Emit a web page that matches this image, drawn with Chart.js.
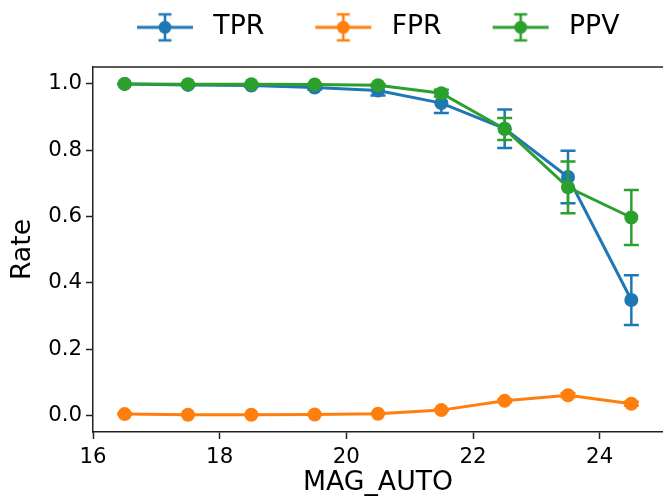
<!DOCTYPE html>
<html>
<head>
<meta charset="utf-8">
<script src="https://cdn.jsdelivr.net/npm/chart.js@4.4.1/dist/chart.umd.min.js"></script>
<style>
  html, body { margin: 0; padding: 0; background: #fff; }
</style>
</head>
<body>
<canvas id="rate-chart" width="663" height="500"></canvas>
<script>
// Magnitude bin centres and the three rates
const magBins = [16.5, 17.5, 18.5, 19.5, 20.5, 21.5, 22.5, 23.5, 24.5];
const tpr    = [1.000, 0.997, 0.995, 0.989, 0.980, 0.942, 0.865, 0.719, 0.348];
const tprErr = [0.001, 0.002, 0.003, 0.006, 0.015, 0.030, 0.058, 0.079, 0.075];
const fpr    = [0.004, 0.002, 0.002, 0.003, 0.005, 0.016, 0.044, 0.061, 0.035];
const fprErr = [0.001, 0.001, 0.001, 0.001, 0.001, 0.002, 0.004, 0.006, 0.006];
const ppv    = [1.000, 0.999, 0.999, 0.998, 0.996, 0.972, 0.864, 0.688, 0.597];
const ppvErr = [0.000, 0.001, 0.001, 0.002, 0.004, 0.010, 0.033, 0.078, 0.083];

const xTicks = [16, 18, 20, 22, 24];
const yTicks = [0.0, 0.2, 0.4, 0.6, 0.8, 1.0];

const BLUE = '#1f77b4', ORANGE = '#ff7f0e', GREEN = '#2ca02c';
const INK = '#222';

// Legend handle: line + marker + vertical error bar, like matplotlib's errorbar handle
function legendHandle(color) {
  const c = document.createElement('canvas');
  c.width = 100; c.height = 32;
  const g = c.getContext('2d');
  g.strokeStyle = color; g.fillStyle = color;
  g.lineWidth = 3;
  g.beginPath(); g.moveTo(37, 16); g.lineTo(93, 16); g.stroke();
  g.lineWidth = 2.5;
  g.beginPath();
  g.moveTo(65, 3); g.lineTo(65, 29);
  g.moveTo(58.5, 3); g.lineTo(71.5, 3);
  g.moveTo(58.5, 29); g.lineTo(71.5, 29);
  g.stroke();
  g.beginPath(); g.arc(65, 16, 6.5, 0, Math.PI * 2); g.fill();
  return c;
}

const toPts = ys => magBins.map((x, i) => ({ x, y: ys[i] }));

const series = (label, ys, errs, color, order) => ({
  label,
  data: toPts(ys),
  errors: errs,
  borderColor: color,
  backgroundColor: color,
  pointBackgroundColor: color,
  pointBorderWidth: 0,
  pointRadius: 7,
  pointHoverRadius: 7,
  borderWidth: 3,
  tension: 0,
  order,
  handle: legendHandle(color),
});

// Error bars are drawn under each dataset's line and markers
const errorBars = {
  id: 'errorBars',
  beforeDatasetDraw(chart, args) {
    const ds = chart.data.datasets[args.index];
    if (!ds.errors) return;
    const { ctx } = chart;
    const xs = chart.scales.x, ys = chart.scales.y;
    ctx.save();
    ctx.strokeStyle = ds.borderColor;
    ctx.lineWidth = 2.5;
    ds.data.forEach((p, i) => {
      const e = ds.errors[i];
      const px = xs.getPixelForValue(p.x);
      const lo = ys.getPixelForValue(p.y - e);
      const hi = ys.getPixelForValue(p.y + e);
      ctx.beginPath();
      ctx.moveTo(px, lo); ctx.lineTo(px, hi);
      ctx.moveTo(px - 7.5, lo); ctx.lineTo(px + 7.5, lo);
      ctx.moveTo(px - 7.5, hi); ctx.lineTo(px + 7.5, hi);
      ctx.stroke();
    });
    ctx.restore();
  },
};

// Top spine (the right one falls outside the canvas)
const frame = {
  id: 'frame',
  afterDraw(chart) {
    const { ctx, chartArea: a } = chart;
    ctx.save();
    ctx.strokeStyle = INK;
    ctx.lineWidth = 1.5;
    ctx.beginPath();
    ctx.moveTo(a.left, a.top); ctx.lineTo(a.right, a.top);
    ctx.stroke();
    ctx.restore();
  },
};

// Legend sits centred over the axes, not the canvas; fix its height to the top margin
const legendPlace = {
  id: 'legendPlace',
  beforeInit(chart) {
    const fit = chart.legend.fit;
    chart.legend.fit = function () { fit.call(this); this.height = 67; };
  },
  afterLayout(chart) {
    chart.legend.left += 86;
    chart.legend.right += 86;
  },
};

Chart.defaults.font.family = "'DejaVu Sans', sans-serif";
Chart.defaults.color = '#000';

new Chart(document.getElementById('rate-chart'), {
  type: 'line',
  data: {
    datasets: [
      series('TPR', tpr, tprErr, BLUE, 3),
      series('FPR', fpr, fprErr, ORANGE, 2),
      series('PPV', ppv, ppvErr, GREEN, 1),
    ],
  },
  options: {
    responsive: false,
    animation: false,
    devicePixelRatio: 1,
    layout: { padding: 0, autoPadding: false },
    plugins: {
      tooltip: { enabled: false },
      legend: {
        position: 'top',
        align: 'start',
        labels: {
          usePointStyle: true,
          pointStyleWidth: 100,
          padding: 14,
          color: '#000',
          font: { size: 26.7 },
          generateLabels(chart) {
            return chart.data.datasets.map((ds, i) => ({
              text: ds.label,
              datasetIndex: i,
              pointStyle: ds.handle,
              fillStyle: ds.borderColor,
              strokeStyle: ds.borderColor,
              lineWidth: 0,
              hidden: false,
            }));
          },
        },
      },
    },
    scales: {
      x: {
        type: 'linear',
        min: 16,
        max: 25,
        afterBuildTicks(s) { s.ticks = xTicks.map(v => ({ value: v })); },
        afterFit(s) { s.height = 68; s.paddingLeft = 0; s.paddingRight = 0; },
        ticks: { font: { size: 21.3 }, padding: 6, callback: v => String(v) },
        grid: { drawOnChartArea: false, tickLength: 7, tickColor: INK, tickWidth: 1.5 },
        border: { color: INK, width: 1.5 },
        title: { display: true, text: 'MAG_AUTO', font: { size: 26.7 }, padding: { top: 0, bottom: 1 } },
      },
      y: {
        min: -0.05,
        max: 1.051,
        afterBuildTicks(s) { s.ticks = yTicks.map(v => ({ value: v })); },
        afterFit(s) { s.width = 93; },
        ticks: { font: { size: 21.3 }, padding: 4, callback: v => v.toFixed(1) },
        grid: { drawOnChartArea: false, tickLength: 7, tickColor: INK, tickWidth: 1.5 },
        border: { color: INK, width: 1.5 },
        title: { display: true, text: 'Rate', font: { size: 26.7 }, padding: { top: 7, bottom: 4 } },
      },
    },
  },
  plugins: [errorBars, frame, legendPlace],
});
</script>
</body>
</html>
